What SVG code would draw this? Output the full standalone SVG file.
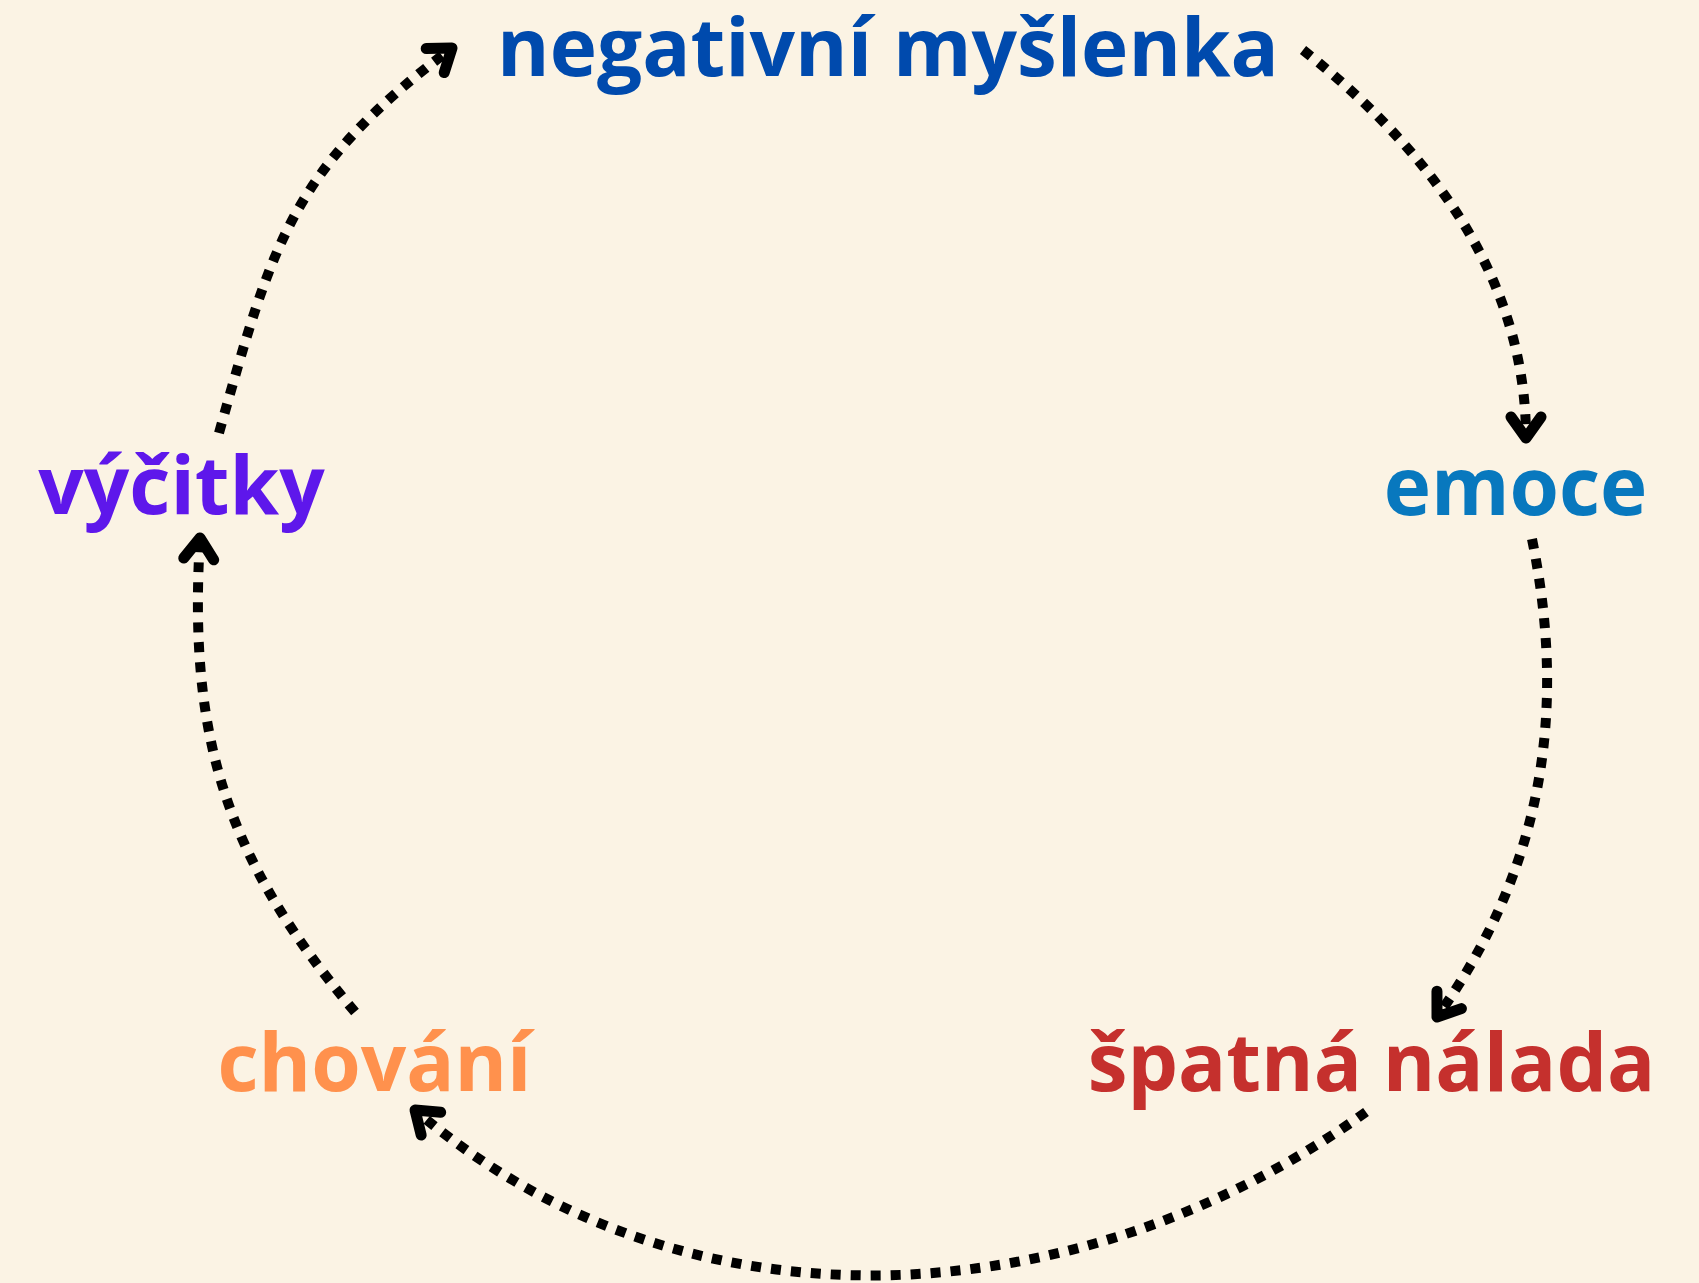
<svg xmlns="http://www.w3.org/2000/svg" width="1699" height="1283" viewBox="0 0 1699 1283">
<style>
  .lbl { font-family: "Open Sans", "Noto Sans", "DejaVu Sans", sans-serif; font-weight: 700; font-size: 80px; text-anchor: middle; }
  .conn { fill: none; stroke: #000; stroke-width: 10; stroke-dasharray: 10 10; marker-end: url(#chev); }
</style>
<defs>
  <marker id="chev" markerUnits="userSpaceOnUse" orient="auto" refX="0" refY="0" markerWidth="60" markerHeight="60" viewBox="-30 -30 60 60" overflow="visible">
    <path d="M-21,-15 L0,0 L-21,15" fill="none" stroke="#000" stroke-width="11" stroke-linecap="round" stroke-linejoin="round"/>
  </marker>
</defs>
<rect x="0" y="0" width="1699" height="1283" fill="#fbf3e4"/>
<g id="connectors">
  <path class="conn" d="M1303,50 Q1526,226 1526,438"/>
  <path class="conn" d="M1532,539 C1568,715 1541,871 1437,1017"/>
  <path class="conn" d="M1366,1112 C1085,1314 690,1346 415,1110"/>
  <path class="conn" d="M355,1012 C226,859 188,738 200,538"/>
  <path class="conn" d="M219,433 C273,241 292,168 452,48"/>
</g>
<g id="node-negativni"><text class="lbl" x="888" y="76" fill="#004aad">negativní myšlenka</text></g>
<g id="node-emoce"><text class="lbl" x="1515.5" y="515" fill="#0878be">emoce</text></g>
<g id="node-spatna"><text class="lbl" x="1371.5" y="1091" fill="#c5302d">špatná nálada</text></g>
<g id="node-chovani"><text class="lbl" x="374.5" y="1091" fill="#ff914d">chování</text></g>
<g id="node-vycitky"><text class="lbl" x="181.5" y="514" fill="#5e17eb">výčitky</text></g>
</svg>
